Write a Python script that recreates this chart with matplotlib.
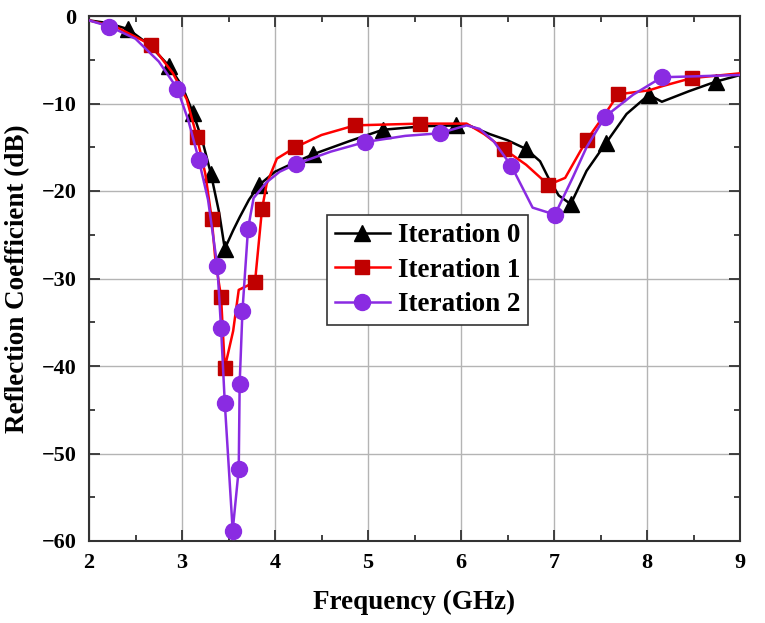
import matplotlib
matplotlib.use("Agg")
import matplotlib.pyplot as plt
from matplotlib.ticker import MultipleLocator

# ---- data (frequency in GHz, reflection coefficient in dB) ----
freq_it0 = [2.0, 2.2, 2.42, 2.65, 2.86, 3.0, 3.12, 3.22, 3.31, 3.40, 3.46, 3.55, 3.62, 3.72,
            3.83, 4.0, 4.2, 4.41, 4.8, 5.16, 5.6, 5.95, 6.06, 6.31, 6.50, 6.70, 6.85, 6.94,
            7.05, 7.18, 7.35, 7.56, 7.78, 8.02, 8.16, 8.45, 8.74, 9.0]
s11_it0 = [-0.5, -0.8, -1.5, -3.3, -5.7, -8.0, -11.1, -14.3, -18.0, -22.5, -26.6, -24.5, -23.0, -21.0,
           -19.3, -17.8, -16.8, -15.8, -14.3, -13.0, -12.6, -12.5, -12.4, -13.5, -14.2, -15.2, -16.6, -18.5,
           -20.5, -21.5, -17.7, -14.5, -11.2, -9.0, -9.8, -8.6, -7.5, -6.75]
mark_it0 = [2, 4, 6, 8, 10, 14, 17, 19, 21, 25, 29, 31, 33, 36]

freq_it1 = [2.0, 2.3, 2.67, 2.9, 3.05, 3.16, 3.25, 3.32, 3.36, 3.42, 3.46, 3.55, 3.61, 3.785,
            3.86, 3.91, 4.02, 4.22, 4.5, 4.86, 5.2, 5.56, 6.06, 6.25, 6.46, 6.7, 6.94, 7.12,
            7.35, 7.53, 7.69, 8.02, 8.17, 8.48, 9.0]
s11_it1 = [-0.5, -1.3, -3.3, -6.5, -9.5, -13.8, -18.0, -23.2, -28.0, -32.1, -40.2, -36.0, -31.3, -30.4,
           -22.1, -19.2, -16.3, -15.0, -13.6, -12.5, -12.4, -12.3, -12.3, -13.5, -15.2, -17.0, -19.3, -18.5,
           -14.2, -11.5, -8.95, -8.5, -8.0, -7.1, -6.55]
mark_it1 = [2, 5, 7, 9, 10, 13, 14, 17, 19, 21, 24, 26, 28, 30, 33]

freq_it2 = [2.0, 2.22, 2.5, 2.75, 2.95, 3.07, 3.18, 3.28, 3.38, 3.42, 3.46, 3.545, 3.61, 3.62,
            3.65, 3.71, 3.77, 3.91, 4.05, 4.23, 4.6, 4.97, 5.4, 5.77, 6.06, 6.20, 6.35, 6.54,
            6.77, 7.01, 7.2, 7.35, 7.55, 7.85, 8.16, 8.5, 9.0]
s11_it2 = [-0.5, -1.2, -2.6, -5.2, -8.3, -12.0, -16.4, -21.0, -28.6, -35.7, -44.2, -58.8, -51.8, -42.0,
           -33.7, -24.3, -20.8, -19.0, -17.8, -16.9, -15.5, -14.4, -13.7, -13.4, -12.5, -12.9, -14.3, -17.1,
           -21.9, -22.7, -18.5, -15.0, -11.5, -9.0, -7.0, -6.9, -6.74]
mark_it2 = [1, 4, 6, 8, 9, 10, 11, 12, 13, 14, 15, 19, 21, 23, 27, 29, 32, 34]

labels = ["Iteration 0", "Iteration 1", "Iteration 2"]
x_ticks = [2, 3, 4, 5, 6, 7, 8, 9]
y_ticks = [-60, -50, -40, -30, -20, -10, 0]

plt.rcParams['font.family'] = ['Liberation Serif', 'DejaVu Serif']
plt.rcParams['font.weight'] = 'bold'
plt.rcParams['mathtext.default'] = 'regular'

fig = plt.figure(figsize=(7.65, 6.23), dpi=100)
ax = fig.add_axes([89/765, 1-541/623, 651/765, 525/623])

ax.plot(freq_it0, s11_it0, color='black', lw=1.8, marker='^', markersize=11,
        markerfacecolor='black', markeredgecolor='black', markevery=mark_it0,
        label=labels[0], zorder=3)
ax.plot(freq_it1, s11_it1, color='#ff0000', lw=1.8, marker='s', markersize=9.5,
        markerfacecolor='#c00000', markeredgecolor='#c00000', markevery=mark_it1,
        label=labels[1], zorder=4)
ax.plot(freq_it2, s11_it2, color='#8a2be2', lw=1.8, marker='o', markersize=11.5,
        markerfacecolor='#8a2be2', markeredgecolor='#8a2be2', markevery=mark_it2,
        label=labels[2], zorder=5)

ax.set_xlim(2, 9)
ax.set_ylim(-60, 0)
ax.set_xticks(x_ticks)
ax.set_yticks(y_ticks)
ax.xaxis.set_minor_locator(MultipleLocator(0.5))
ax.yaxis.set_minor_locator(MultipleLocator(5))
ax.grid(True, which='major', color='#b4b4b4', lw=1.0)
ax.set_axisbelow(True)

ax.tick_params(which='major', direction='in', length=8, width=1.3, labelsize=16, pad=9,
               top=True, right=True, labeltop=False, labelright=False, color='#333333')
ax.tick_params(which='minor', direction='in', length=4.5, width=1.3,
               top=True, right=True, color='#333333')
for lab in ax.get_xticklabels() + ax.get_yticklabels():
    lab.set_fontweight('bold')
for sp in ax.spines.values():
    sp.set_linewidth(1.5)
    sp.set_color('#333333')

ax.set_xlabel("Frequency (GHz)", fontsize=19.5, fontweight='bold', labelpad=12)
ax.set_ylabel("Reflection Coefficient (dB)", fontsize=19.5, fontweight='bold', labelpad=8)

leg = ax.legend(loc='upper left', bbox_to_anchor=(0.366, 0.621), fontsize=19.5,
                frameon=True, fancybox=False, edgecolor='#333333', framealpha=1,
                borderpad=0.3, labelspacing=0.35, handlelength=2.0, handletextpad=0.3,
                borderaxespad=0)
leg.get_frame().set_linewidth(1.2)
for t in leg.get_texts():
    t.set_fontweight('bold')

fig.savefig("out.png", dpi=100)
